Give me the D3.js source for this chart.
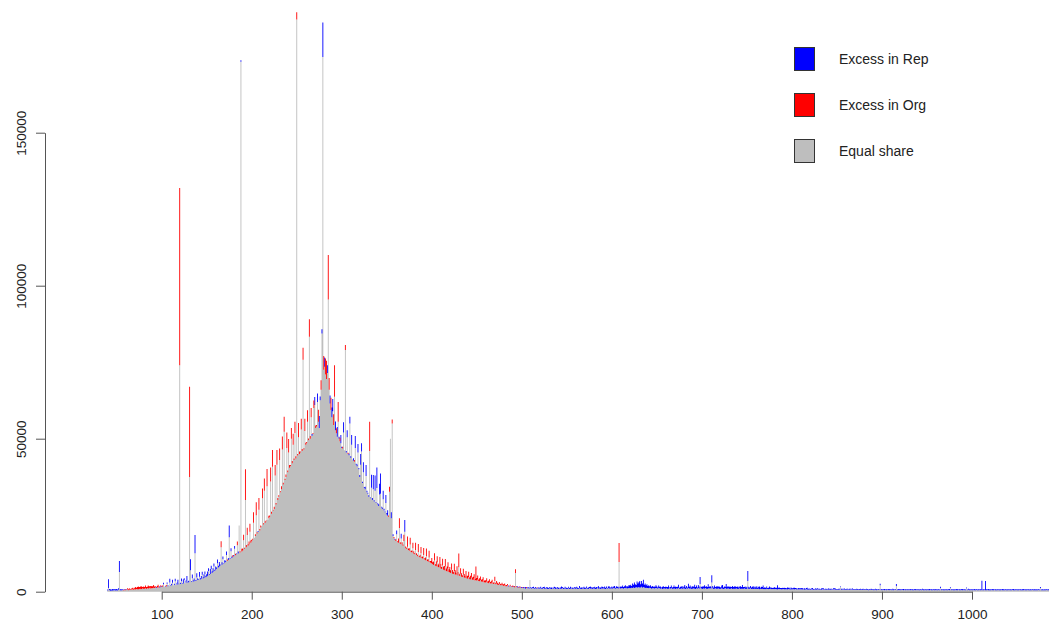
<!DOCTYPE html>
<html>
<head>
<meta charset="utf-8">
<script src="https://cdn.jsdelivr.net/npm/d3@7"></script>
<style>
  body { margin: 0; background: #fff; }
  svg { display: block; }
  text { font-family: "Liberation Sans", Arial, Helvetica, sans-serif; }
</style>
</head>
<body>
<div id="chart"></div>
<script>
// counts per length, in thousands. equal share = gray base, excess > 0 is Rep (blue), < 0 is Org (red)
const equalShare040 = [
  0.4,1.2,0.5,0.3,0.4,0.3,0.5,0.4,0.6,0.3,
  0.5,0.4,0.6,6.4,0.5,0.4,0.6,0.5,0.4,0.6,
  0.5,0.6,0.7,0.5,0.6,0.7,0.6,0.8,0.7,0.6,
  0.8,0.7,0.9,0.8,0.7,0.9,1.0,0.8,0.9,1.1,
  0.9,1.0,1.1,0.9,1.2,1.0,1.1,1.3,1.0,1.2,
  1.1,1.3,1.2,1.4,1.2,1.3,1.5,1.3,1.4,1.6
];
const excess040 = [
  0.3,2.9,0.4,0.5,0.2,0.6,0.3,0.4,0.3,0.5,
  0.4,0.3,0.5,3.6,0.3,0.4,0.2,0.3,-0.2,0.3,
  -0.3,0.2,-0.4,-0.3,-0.5,-0.2,-0.4,-0.3,-0.6,-0.4,
  -0.5,-0.8,-0.4,-0.7,-1.0,-0.6,-0.5,-1.1,-0.7,-0.4,
  -0.8,-0.5,-0.9,-0.6,-0.4,-1.0,-0.7,-0.5,-0.9,-0.6,
  -0.7,-0.9,-0.5,-0.4,0.3,-0.6,-0.8,-0.3,0.4,-0.5
];

const equalShare100 = [
  1.5,1.6,2.4,1.6,1.7,1.7,2.6,1.8,1.9,3.0,
  2.0,2.1,2.9,2.1,2.2,3.4,2.3,2.3,2.8,2.4,
  74,2.5,3.4,2.6,2.7,3.8,2.8,2.9,3.6,3.0,
  3.1,37.5,7.0,3.2,4.4,3.3,3.4,12.6,3.5,4.6,
  3.8,3.9,4.9,4.0,4.2,5.5,4.3,4.5,5.8,4.7,
  5.0,5.2,6.8,5.5,5.8,7.4,6.1,6.4,8.2,6.8,
  7.2,7.5,9.3,7.9,8.2,8.6,14.5,8.8,10.6,9.2,
  9.5,9.8,12.0,10.1,10.4,17.8,10.7,13.2,11.0,11.3,
  11.6,14.0,11.9,12.2,15.2,12.5,21.6,12.8,173.2,13.1,
  13.5,16.8,14.0,30.0,14.5,18.5,15.0,15.4,19.6,16.0
];
const excess100 = [
  0.3,-0.4,0.5,0,0.2,-0.5,0.4,0.3,0,1.2,
  0.2,0.5,1.0,0,0.4,0.8,0,0.6,1.1,0.3,
  -57.9,0.4,0.9,0.2,1.3,0.6,0,0.8,1.5,0.3,
  0.5,-29.5,3.6,0.2,1.2,0.4,0.9,5.9,0.3,1.4,
  0.6,0.2,1.5,0.4,0.9,1.0,0.3,1.2,0.8,0.5,
  0.7,1.4,0.9,0.3,1.6,1.1,0.5,1.3,1.0,0.4,
  1.0,0.4,1.2,0.6,1.5,0.3,-2.0,0.8,0.9,0.2,
  0.8,0.3,1.1,-0.4,0.6,3.8,0.2,1.0,0.5,-0.6,
  0.4,0.9,-0.5,0.3,-1.2,0.6,0,-0.4,0.5,-0.9,
  -0.6,-1.8,-0.4,-10,-0.8,-2.4,-0.5,-1.0,-2.6,-0.7
];

const equalShare200 = [
  16.5,17.0,22.5,17.6,18.2,25.0,19.0,19.5,26.8,20.0,
  21.0,21.5,30.5,22.0,33.0,22.5,23.0,34.5,23.5,24.0,
  24.5,36.0,25.5,40.8,26.5,27.0,38.0,28.5,41.5,30.0,
  31.0,43.0,32.5,33.5,46.5,35.0,52.3,36.5,37.5,47.0,
  39.0,45.5,40.5,41.0,50.0,42.0,48.0,43.0,51.9,43.5,
  187.0,44.5,50.5,45.0,45.5,53.0,46.0,75.8,46.5,52.5,
  48.0,48.5,55.5,49.5,83.3,50.0,57.0,51.0,51.5,60.0,
  61.0,53.5,54.0,62.0,55.5,53.5,62.6,66.0,84.4,174.7,
  72.5,73.5,71.0,69.5,71.5,95.5,66.0,61.5,59.4,57.0,
  59.0,54.5,63.7,52.8,51.8,50.6,55.5,50.0,49.2,48.5
];
const excess200 = [
  -0.5,-0.3,-3.5,0,-0.6,-4.2,-0.4,0.3,-3.8,-0.5,
  -0.6,0,-3.2,-0.4,-4.0,-0.5,-0.3,-5.6,0,-0.8,
  -0.4,-4.6,-0.6,-5.5,-0.3,-0.8,-3.4,-0.5,-4.8,-0.6,
  -0.5,-3.8,-0.3,-1.0,-4.2,-0.6,-4.9,-0.4,-0.8,-5.0,
  -0.6,-4.4,-0.9,-0.4,-3.5,-0.7,-3.6,-0.5,-3.6,-0.8,
  -2.4,-0.5,-4.6,-0.8,-0.3,-3.5,-0.6,-3.9,-0.4,-4.0,
  -0.7,-0.4,-3.8,-0.6,-5.7,-0.9,-3.0,0.5,-0.4,-2.5,
  2.6,-0.8,-0.5,2.8,-4.0,3.9,1.2,-3.1,1.4,11.3,
  -4.5,3.0,-5.2,-6.0,2.5,-14.5,-3.8,2.6,-4.0,3.2,
  4.0,-3.5,-10.3,2.8,-1.6,3.2,-6.5,0.6,-1.1,2.7
];

const equalShare300 = [
  47.0,46.8,52.0,46.2,79.0,45.5,50.5,45.0,44.6,55.0,
  43.8,48.0,43.2,42.8,42.5,47.0,41.5,41.0,45.5,40.0,
  37.5,41.5,45.8,35.5,39.0,34.0,33.5,37.8,32.5,32.0,
  31.0,46.0,30.5,34.0,30.0,33.5,29.5,33.0,29.0,33.9,
  28.5,28.0,31.8,32.0,27.5,27.0,30.2,26.5,26.0,29.0,
  25.2,24.8,24.5,32.7,50.0,24.0,55.0,18.2,17.5,17.0,
  16.6,18.8,16.2,16.0,20.8,15.6,17.4,15.4,15.0,16.6,
  19.6,14.2,14.0,14.7,13.6,13.4,15.4,13.0,12.8,14.2,
  12.4,12.2,13.6,12.0,11.6,13.0,11.4,11.2,12.6,11.0,
  10.8,12.0,10.5,10.3,11.6,10.0,9.8,11.2,9.6,9.4
];
const excess300 = [
  0.4,-0.6,3.4,0,-1.6,0.5,2.3,-0.4,0.6,2.2,
  0.5,3.2,0,0.8,-0.5,3.9,0.3,0.6,2.8,0.4,
  0.6,3.5,2.7,0.4,3.3,0.2,0.8,3.6,0.5,0.3,
  0.5,-9.5,0.3,4.2,0.6,4.6,0.4,5.0,0.2,6.7,
  0.4,0.6,3.5,6.6,0.3,0.5,2.8,0.6,0.2,2.6,
  0.5,1.8,-0.4,-1.6,0,2.0,-1.3,0.6,-0.4,0.3,
  -0.5,1.2,-0.3,-1.4,-3.2,-0.6,1.5,-0.8,-0.4,-2.0,
  3.8,-0.6,-0.4,-3.3,-0.5,-0.8,-2.2,-0.4,-0.7,-1.8,
  -0.8,-0.4,-2.4,-0.6,-0.5,-2.6,-0.3,-0.9,-2.0,-0.4,
  -0.7,-2.3,-0.4,-0.9,-2.5,-0.5,-0.8,-2.2,-0.4,-0.6
];

const equalShare400 = [
  9.2,9.0,8.7,10.2,8.5,8.3,9.6,8.1,7.9,9.2,
  7.6,7.4,8.6,7.2,7.0,8.2,6.8,6.6,7.6,6.4,
  6.3,6.1,7.2,5.9,5.8,6.8,5.6,5.5,6.4,5.3,
  8.0,5.1,5.9,4.9,4.8,5.6,4.6,4.5,5.2,4.3,
  4.2,4.8,4.1,4.0,4.6,3.9,3.8,4.3,3.7,3.8,
  3.6,4.0,3.5,3.4,3.8,3.3,3.2,3.6,3.1,3.0,
  3.0,3.3,2.9,2.8,3.1,2.7,2.7,3.0,2.6,2.5,
  3.5,2.4,2.7,2.3,2.2,2.5,2.1,2.1,2.3,2.0,
  1.9,2.1,1.8,1.8,2.0,1.7,1.7,1.9,1.6,1.6,
  1.6,1.5,1.4,6.1,1.5,1.4,1.3,1.4,1.3,1.2
];
const excess400 = [
  -1.8,-0.6,-1.2,-2.4,-0.5,-1.6,-2.0,-0.8,-1.3,-2.1,
  -1.5,-0.7,-2.2,-1.0,-1.4,-2.5,-0.8,-1.6,-2.0,-0.9,
  -1.8,-0.9,-2.0,-1.2,-0.7,-2.3,-1.4,-0.8,-1.9,-1.1,
  -4.5,-0.8,-1.8,-1.1,-0.6,-1.9,-1.2,-0.7,-1.6,-0.9,
  -1.0,-1.7,-0.6,-1.2,-1.5,-0.7,-1.1,-1.4,-0.5,-4.4,
  -0.9,-1.3,-0.5,-1.0,-1.2,-0.6,-0.9,-1.1,-0.4,-0.8,
  -0.7,-1.1,-0.4,-0.8,-1.0,-0.5,-0.7,-0.9,-0.3,-0.6,
  -1.4,-0.5,-0.8,-0.6,-0.4,-0.7,-0.5,-0.3,-0.6,-0.4,
  -0.5,-0.6,-0.3,-0.4,-0.5,0.3,-0.2,-0.4,0.2,-0.3,
  -0.4,0.3,-0.5,-1.2,-0.3,0.4,-0.2,0.3,-0.4,0.2
];

const equalShare500 = [
  1.2,1.3,1.1,1.2,1.0,1.2,1.1,1.3,1.0,3.8,
  1.1,1.0,1.2,1.1,0.9,1.1,1.0,1.2,1.0,1.1,
  1.0,1.1,0.9,1.0,1.2,1.0,0.9,1.1,1.0,0.9,
  1.0,1.1,1.0,0.9,1.1,1.0,1.2,0.9,1.0,1.1,
  1.0,0.9,1.1,1.0,1.0,1.2,0.9,1.0,1.1,1.0,
  0.9,1.0,1.1,0.9,1.0,1.1,1.0,0.9,1.2,1.0,
  1.0,1.1,0.9,1.0,1.1,1.0,0.9,1.0,1.1,1.0,
  0.9,1.0,1.1,1.0,0.9,1.2,1.0,1.1,0.9,1.0,
  1.1,1.0,0.9,1.0,1.2,1.0,1.1,0.9,1.0,1.1,
  1.0,1.1,1.0,0.9,1.1,1.0,1.2,1.0,1.1,1.0,
  1.1,1.0,1.2,1.1,1.0,1.1,1.2,1.0,9.7,1.1,
  1.0,1.2,1.1,1.0,1.2,1.1,1.3,1.0,1.2,1.1,
  1.2,1.1,1.3,1.2,1.4,1.2,1.3,1.5,1.3,1.4,
  1.5,1.3,1.4,1.6,1.3,1.5,1.4,1.2,1.3,1.2,
  1.2,1.1,1.3,1.2,1.0,1.1,1.2,1.0,1.1,1.2,
  1.1,1.0,1.2,1.1,1.0,1.1,0.9,1.0,1.1,1.0,
  1.0,1.1,0.9,1.0,1.1,1.0,1.2,1.0,0.9,1.1,
  1.0,0.9,1.1,1.0,1.2,1.0,0.9,1.1,1.0,1.0,
  1.1,1.0,0.9,1.1,1.0,1.2,1.0,1.1,0.9,1.0,
  1.0,1.1,1.0,0.9,1.1,1.0,1.2,1.0,2.5,1.1,
  1.0,0.9,1.1,1.0,1.2,1.0,0.9,1.1,1.0,1.2,
  1.0,3.0,1.1,0.9,1.0,1.1,1.0,0.9,1.1,1.0,
  0.9,1.0,1.1,1.0,0.9,1.0,1.2,1.0,0.9,1.1,
  1.0,0.9,1.0,1.1,0.9,1.0,1.0,0.9,1.1,1.0,
  0.9,1.0,1.1,0.9,1.0,1.0,0.9,1.1,1.0,0.9,
  1.0,3.5,0.9,1.0,1.1,0.9,1.0,0.9,1.0,1.0,
  0.9,1.0,0.9,1.0,0.8,1.0,0.9,1.0,0.9,0.8,
  0.9,0.8,1.0,0.9,0.8,0.9,1.0,0.8,0.9,0.8,
  0.9,0.8,0.9,0.8,0.7,0.9,0.8,0.9,0.7,0.8,
  0.8,0.9,0.7,0.8,0.8,0.7,0.9,0.8,0.7,0.8
];
const excess500 = [
  0.3,-0.2,0.4,0.2,0.5,-0.3,0.3,0.2,0.4,0,
  0.4,0.2,0.3,0.5,0.2,0.4,0.3,-0.2,0.4,0.3,
  0.3,0.5,0.2,0.4,0.3,0.6,0.2,0.3,0.5,0.4,
  0.2,0.4,0.3,0.5,0.2,0.3,0.4,0.6,0.2,0.3,
  0.5,0.3,0.2,0.4,0.7,0.3,0.4,0.2,0.5,0.3,
  0.4,0.2,0.5,0.3,0.6,0.2,0.4,0.3,0.2,0.5,
  0.3,0.5,0.4,0.2,0.8,0.3,0.5,0.4,0.2,0.6,
  0.4,0.3,0.6,0.2,0.5,0.3,0.7,0.4,0.3,0.5,
  0.3,0.6,0.4,0.5,0.2,0.9,0.3,0.5,0.4,0.6,
  0.5,0.3,0.7,0.4,0.6,0.2,0.5,0.8,0.3,0.4,
  0.6,0.4,0.5,0.8,0.3,0.7,0.4,0.6,-6.2,0.5,
  0.7,0.4,0.9,0.5,0.6,1.0,0.4,0.8,0.5,1.1,
  0.8,1.2,0.6,1.5,0.9,1.8,1.1,0.7,2.0,1.3,
  1.6,2.2,1.0,1.9,1.4,2.4,0.9,1.5,0.8,1.2,
  0.7,1.0,0.5,0.9,0.6,0.8,0.4,0.7,0.5,0.9,
  0.6,0.4,0.8,0.5,0.7,0.3,0.6,0.9,0.4,0.5,
  0.7,0.4,0.6,1.0,0.3,0.5,0.8,0.4,0.6,0.9,
  0.5,0.8,0.4,0.6,1.1,0.3,0.7,0.5,0.9,0.4,
  0.6,1.2,0.5,0.8,0.4,1.4,0.6,0.9,0.5,0.7,
  0.8,0.5,1.3,0.6,0.9,0.4,1.0,0.7,2.3,0.6,
  0.5,0.9,0.6,1.1,0.4,0.8,0.6,1.3,0.5,0.7,
  0.6,2.4,0.8,0.5,1.0,0.4,0.7,0.9,0.5,0.8,
  0.6,0.4,0.9,1.2,0.5,0.7,0.4,1.5,0.6,0.8,
  0.5,0.8,0.6,0.4,1.0,0.5,0.7,0.9,0.4,0.6,
  0.8,0.4,0.6,0.9,0.5,1.2,0.6,0.4,0.7,0.5,
  0.6,3.3,0.7,0.4,0.8,0.5,0.6,0.9,0.4,0.7,
  0.5,0.8,0.4,0.6,0.9,0.3,0.7,0.5,1.1,0.4,
  0.6,0.4,0.7,0.3,0.5,0.8,0.4,0.6,0.3,0.5,
  0.4,0.7,0.3,0.5,1.4,0.4,0.6,0.3,0.5,0.4,
  0.5,0.3,0.6,0.4,0.3,0.7,0.4,0.5,0.3,0.6
];

const equalShare800 = [
  0.7,0.8,0.8,0.7,0.9,0.7,0.8,0.7,0.8,0.7,
  0.8,0.7,0.7,0.8,0.6,0.7,0.8,0.7,0.6,0.7,
  0.7,0.6,0.8,0.7,0.6,0.7,0.7,0.6,0.7,0.8,
  0.6,0.7,0.7,0.6,0.8,0.7,0.6,0.7,0.6,0.7,
  0.7,0.6,0.7,0.6,0.7,0.6,0.7,0.8,0.6,0.7,
  0.6,0.7,0.6,0.7,1.6,0.6,0.7,0.6,0.7,0.6,
  0.7,0.6,0.7,0.6,0.6,0.7,0.6,0.7,0.6,0.6,
  0.6,0.7,0.6,0.6,0.7,0.6,0.6,0.7,0.6,0.6,
  0.6,0.6,0.7,0.6,0.6,0.5,0.6,0.7,0.6,0.6,
  0.6,0.5,0.6,0.6,0.5,0.6,0.6,0.7,2.1,0.6,
  0.5,0.6,0.6,0.5,0.6,0.5,0.6,0.6,0.5,0.6,
  0.6,0.5,0.6,0.5,0.6,0.6,1.9,0.5,0.6,0.5,
  0.6,0.5,0.6,0.6,0.5,0.6,0.5,0.6,0.5,0.6,
  0.5,0.6,0.5,0.6,0.5,0.5,0.6,0.5,0.6,0.5,
  0.6,0.5,0.5,0.6,0.5,0.6,0.5,0.5,0.6,0.5,
  0.5,0.6,0.5,0.5,0.6,0.5,0.5,0.6,0.5,0.5,
  0.6,0.5,0.5,0.6,0.5,1.2,0.5,0.6,0.5,0.5,
  0.5,0.6,0.5,0.5,0.6,0.5,1.3,0.5,0.6,0.5,
  0.5,0.5,0.6,0.5,0.5,0.6,0.5,0.5,0.6,0.5,
  0.5,0.6,0.5,0.5,1.1,0.5,0.6,0.5,0.5,0.6,
  0.5,0.5,0.6,0.5,0.5,0.6,0.5,0.5,0.6,0.5,
  0.5,0.6,0.5,0.5,0.6,0.5,0.5,0.6,0.5,0.5,
  0.5,0.5,0.6,0.5,0.5,0.6,0.5,0.5,0.5,0.6,
  0.5,0.5,0.5,0.6,0.5,0.5,0.5,0.6,0.5,0.5,
  0.5,0.6,0.5,0.5,0.5,0.6,0.5,0.5,0.5,0.6,
  0.5,0.5,0.5,0.6,0.5,0.5,0.5,0.5,0.6,0.5,
  0.5,0.5,0.6,0.5,0.5,0.5,0.5,0.6,0.5,0.5,
  0.5,0.5,0.5,0.5,0.6,0.5,1.2,0.5,0.5,0.5,
  0.5,0.5,0.5,0.6,0.5,0.5
];
const excess800 = [
  0.4,0.3,0.5,0.6,0.3,0.4,0.2,0.5,0.3,0.4,
  0.3,0.5,0.4,0.2,0.5,0.3,0.4,0.6,0.3,0.4,
  0.2,0.4,0.3,0.5,0.3,0.2,0.4,0.3,0.5,0.2,
  0.4,0.3,0.2,0.5,0.3,0.4,0.2,0.3,0.4,0.2,
  0.3,0.5,0.2,0.4,0.3,0.2,0.4,0.3,0.5,0.2,
  0.3,0.2,0.4,0.3,0.2,0.4,0.3,0.2,0.4,0.3,
  0.2,0.4,0.3,0.2,0.4,0.3,0.2,0.4,0.3,0.2,
  0.3,0.2,0.4,0.3,0.2,0.3,0.4,0.2,0.3,0.4,
  0.2,0.3,0.2,0.4,0.3,0.2,0.3,0.2,0.4,0.3,
  0.2,0.3,0.2,0.4,0.3,0.2,0.3,0.2,0.5,0.3,
  0.3,0.2,0.3,0.4,0.2,0.3,0.2,0.3,0.4,0.2,
  0.3,0.2,0.4,0.3,0.2,0.3,0.6,0.2,0.3,0.4,
  0.2,0.3,0.2,0.3,0.4,0.2,0.3,0.2,0.3,0.2,
  0.3,0.2,0.4,0.2,0.3,0.2,0.3,0.4,0.2,0.3,
  0.2,0.3,0.2,0.3,0.2,0.4,0.3,0.2,0.3,0.2,
  0.3,0.2,0.3,0.4,0.2,0.3,0.2,0.3,0.2,0.4,
  0.2,0.3,0.2,0.3,0.2,0.4,0.3,0.2,0.3,0.2,
  0.3,0.2,0.3,0.2,0.3,0.4,0.2,0.3,0.2,0.3,
  0.2,0.3,0.2,0.4,0.3,0.2,0.3,0.2,0.3,0.4,
  0.3,0.2,0.3,0.2,0.3,0.2,0.4,0.3,0.2,0.3,
  0.2,0.3,0.2,0.4,0.2,0.3,0.2,0.3,0.2,0.3,
  0.3,3.0,0.2,0.3,0.2,3.0,0.3,0.2,0.4,0.3,
  0.2,0.3,0.2,0.4,0.3,0.2,0.3,0.2,0.3,0.2,
  0.3,0.2,0.3,0.2,0.4,0.3,0.2,0.3,0.2,0.3,
  0.2,0.3,0.2,0.3,0.2,0.3,0.4,0.2,0.3,0.2,
  0.3,0.2,0.3,0.2,0.3,0.2,0.3,0.4,0.2,0.3,
  0.2,0.3,0.2,0.3,0.2,0.3,0.2,0.3,0.2,0.3,
  0.3,0.2,0.3,0.2,0.3,0.2,0.3,0.2,0.3,0.2,
  0.2,0.3,0.2,0.3,0.2,0.3
];

const binStarts = [40, 100, 200, 300, 400, 500, 800];
const equalParts = [equalShare040, equalShare100, equalShare200, equalShare300, equalShare400, equalShare500, equalShare800];
const excessParts = [excess040, excess100, excess200, excess300, excess400, excess500, excess800];

const xTicks = [100, 200, 300, 400, 500, 600, 700, 800, 900, 1000];
const yTicks = [0, 50, 100, 150];
const yTickLabels = ['0', '50000', '100000', '150000'];
const legendLabels = ['Excess in Rep', 'Excess in Org', 'Equal share'];
const legendColors = ['#0000ff', '#ff0000', '#bebebe'];

const bins = [];
binStarts.forEach(function(start, k) {
  if (equalParts[k].length !== excessParts[k].length) console.error('length mismatch at', start);
  equalParts[k].forEach(function(eq, i) {
    bins.push({ len: start + i, equal: eq, excess: excessParts[k][i] });
  });
});

const width = 1049, height = 624;
const svg = d3.select('#chart').append('svg')
  .attr('width', width)
  .attr('height', height);

const x = d3.scaleLinear().domain([100, 1000]).range([161.7, 972]);
const y = d3.scaleLinear().domain([0, 150]).range([591.7, 132.7]);
const barW = x(1) - x(0);

// one path per colour so that neighbouring thin bars merge into a solid area
function barPath(rows, lo, hi) {
  const p = d3.path();
  rows.forEach(function(d) {
    const y0 = y(lo(d)), y1 = y(hi(d));
    if (y0 - y1 <= 0) return;
    p.rect(x(d.len) - barW / 2, y1, barW, y0 - y1);
  });
  return p.toString();
}

svg.append('path')
  .attr('fill', '#bebebe')
  .attr('d', barPath(bins, function() { return 0 }, function(d) { return d.equal }));
svg.append('path')
  .attr('fill', '#0000ff')
  .attr('d', barPath(bins.filter(function(d) { return d.excess > 0 }),
    function(d) { return d.equal }, function(d) { return d.equal + d.excess }));
svg.append('path')
  .attr('fill', '#ff0000')
  .attr('d', barPath(bins.filter(function(d) { return d.excess < 0 }),
    function(d) { return d.equal }, function(d) { return d.equal - d.excess }));

// x axis
const gx = svg.append('g')
  .attr('transform', 'translate(0,' + y(0) + ')')
  .call(d3.axisBottom(x).tickValues(xTicks).tickSize(8).tickSizeOuter(0).tickFormat(d3.format('d')));
gx.selectAll('path, line').attr('stroke', '#555');
gx.selectAll('text')
  .attr('y', 27.6)
  .attr('dy', 0)
  .attr('fill', '#222')
  .style('font-size', '13.5px');

// y axis, labels rotated like R's default
const gy = svg.append('g')
  .attr('transform', 'translate(45,0)')
  .call(d3.axisLeft(y).tickValues(yTicks).tickSize(9).tickSizeOuter(0)
    .tickFormat(function(d, i) { return yTickLabels[i] }));
gy.selectAll('path, line').attr('stroke', '#555');
gy.selectAll('text')
  .attr('x', 0)
  .attr('y', 0)
  .attr('dy', 0)
  .attr('text-anchor', 'middle')
  .attr('transform', 'translate(-19.5,0) rotate(-90)')
  .attr('fill', '#222')
  .style('font-size', '13.5px');

// legend
const legend = svg.append('g').attr('transform', 'translate(794.5,47.5)');
legendLabels.forEach(function(label, i) {
  legend.append('rect')
    .attr('x', 0)
    .attr('y', i * 46)
    .attr('width', 20)
    .attr('height', 23)
    .attr('fill', legendColors[i])
    .attr('stroke', '#333')
    .attr('stroke-width', 1);
  legend.append('text')
    .attr('x', 44.5)
    .attr('y', i * 46 + 16.8)
    .attr('fill', '#222')
    .style('font-size', '14px')
    .text(label);
});
</script>
</body>
</html>
